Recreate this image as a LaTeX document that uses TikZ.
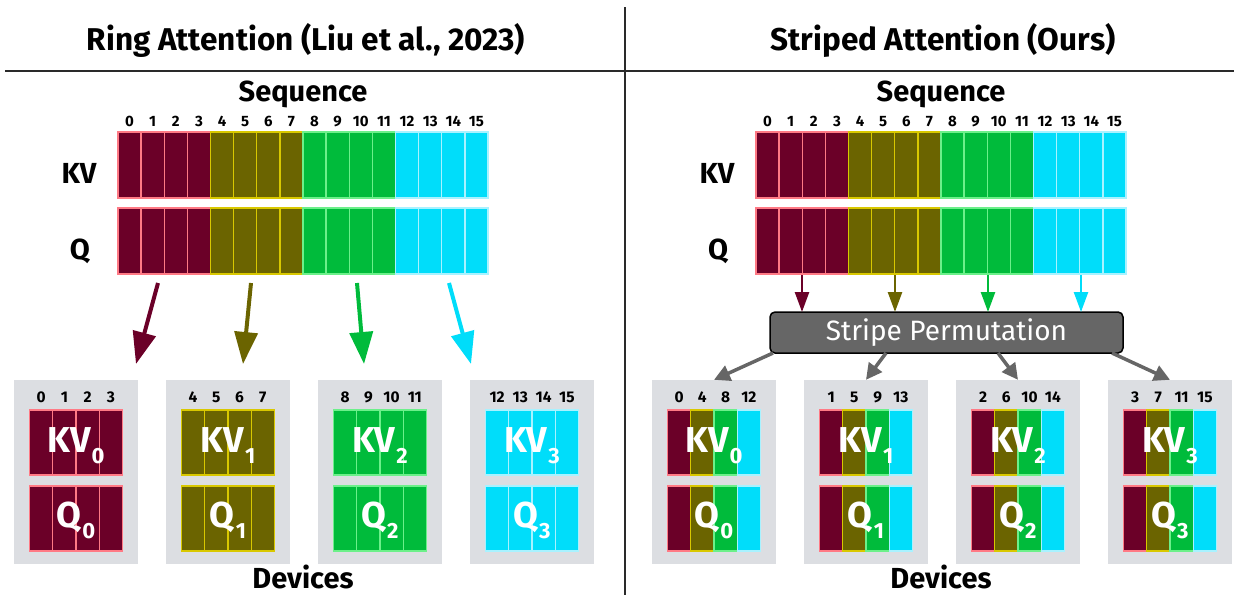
\documentclass[tikz,border=0pt]{standalone}
\usepackage{fontspec}
\setmainfont{Fira Sans}
\usetikzlibrary{arrows.meta}
\definecolor{f0}{HTML}{6B0028}
\definecolor{f1}{HTML}{6B6400}
\definecolor{f2}{HTML}{00BB3B}
\definecolor{f3}{HTML}{00DDFA}
\definecolor{b0}{HTML}{FF7A85}
\definecolor{b1}{HTML}{D9C800}
\definecolor{b2}{HTML}{6CF08A}
\definecolor{b3}{HTML}{A8F2FF}
\definecolor{devgray}{HTML}{DCDEE2}
\definecolor{permgray}{HTML}{666666}
\definecolor{rule}{HTML}{2A2A2A}
\begin{document}
\begin{tikzpicture}[x=1pt,y=-1pt,
  cellline/.style={line width=1.4pt},
  numlbl/.style={anchor=base,inner sep=0,font=\fontsize{15}{15}\selectfont\bfseries},
  devnum/.style={anchor=base,inner sep=0,font=\fontsize{15.5}{16}\selectfont\bfseries},
  title/.style={anchor=base,inner sep=0,font=\fontsize{31.5}{32}\selectfont\bfseries},
  head/.style={anchor=base,inner sep=0,font=\fontsize{29}{30}\selectfont\bfseries},
  rowlbl/.style={anchor=base,inner sep=0,font=\fontsize{29}{30}\selectfont\bfseries},
  devlbl/.style={anchor=base,inner sep=0,text=white,font=\fontsize{36}{36}\selectfont\bfseries},
  barbox/.style={minimum width=370pt,minimum height=66pt,inner sep=0,draw=none},
  devbox/.style={minimum width=124pt,minimum height=184pt,inner sep=0,fill=devgray,draw=none},
  bigarrow/.style={line width=4pt,-{Triangle[length=32pt,width=23pt]}},
  downarrow/.style={line width=2.5pt,-{Triangle[length=20pt,width=14pt]}},
  grayarrow/.style={line width=3.5pt,permgray,-{Triangle[length=16pt,width=16pt]}},
  permbox/.style={minimum width=353pt,minimum height=41pt,inner sep=0,rounded corners=5pt,
    fill=permgray,draw=black,line width=1.5pt,text=white,font=\fontsize{28}{28}\selectfont}
]
\useasboundingbox (0,0) rectangle (1234,595);
% rules
\draw[rule,line width=2pt] (625,7) -- (625,595);
\draw[rule,line width=2pt] (5,70.5) -- (1234,70.5);
% titles
\node[title] (tL) at (306,50) {Ring Attention (Liu et al., 2023)};
\node[title] (tR) at (943,50) {Striped Attention (Ours)};
\node[head] (sL) at (303,101) {Sequence};
\node[head] (sR) at (941,101) {Sequence};
\node[head] (dL) at (303,588) {Devices};
\node[head] (dR) at (941,588) {Devices};
% row labels
\node[rowlbl] (kvlL) at (79,183) {KV};
\node[rowlbl] (qlL) at (80,259) {Q};
\node[rowlbl] (kvlR) at (717,183) {KV};
\node[rowlbl] (qlR) at (718,259) {Q};
% sequence bars
\foreach \bx/\sd in {118/L,756/R} {
  \node[barbox] (kv\sd) at (\bx+185,165) {};
  \node[barbox] (q\sd) at (\bx+185,241) {};
  \foreach \i in {0,...,15} {
    \pgfmathtruncatemacro\g{floor(\i/4)}
    \pgfmathsetmacro\xx{\bx+23.125*\i}
    \filldraw[fill=f\g,draw=b\g,cellline] (\xx,132) rectangle ++(23.125,66);
    \filldraw[fill=f\g,draw=b\g,cellline] (\xx,208) rectangle ++(23.125,66);
    \node[numlbl] (n\sd\i) at (\xx+11.56,126) {\i};
  }
}
% left devices
\foreach \d/\bx in {0/14,1/166,2/318,3/470} {
  \node[devbox] (devL\d) at (\bx+62,472) {};
  \foreach \j in {0,...,3} {
    \pgfmathtruncatemacro\nn{4*\d+\j}
    \pgfmathsetmacro\xx{\bx+15.5+23.25*\j}
    \filldraw[fill=f\d,draw=b\d,cellline] (\xx,410) rectangle ++(23.25,65);
    \filldraw[fill=f\d,draw=b\d,cellline] (\xx,486) rectangle ++(23.25,65);
    \node[devnum] (dnL\d\j) at (\xx+11.6,402) {\nn};
  }
  \node[devlbl] (kvdL\d) at (\bx+62,452) {KV\kern1pt\raisebox{-11pt}{\fontsize{22}{22}\selectfont\d}};
  \node[devlbl] (qdL\d) at (\bx+62,527) {Q\kern1pt\raisebox{-11pt}{\fontsize{22}{22}\selectfont\d}};
}
% right devices
\foreach \d/\bx in {0/652,1/804,2/956,3/1108} {
  \node[devbox] (devR\d) at (\bx+62,472) {};
  \foreach \j in {0,...,3} {
    \pgfmathtruncatemacro\nn{\d+4*\j}
    \pgfmathsetmacro\xx{\bx+15.5+23.25*\j}
    \filldraw[fill=f\j,draw=b\j,cellline] (\xx,410) rectangle ++(23.25,65);
    \filldraw[fill=f\j,draw=b\j,cellline] (\xx,486) rectangle ++(23.25,65);
    \node[devnum] (dnR\d\j) at (\xx+11.6,402) {\nn};
  }
  \node[devlbl] (kvdR\d) at (\bx+62,452) {KV\kern1pt\raisebox{-11pt}{\fontsize{22}{22}\selectfont\d}};
  \node[devlbl] (qdR\d) at (\bx+62,527) {Q\kern1pt\raisebox{-11pt}{\fontsize{22}{22}\selectfont\d}};
}
% left arrows
\coordinate (la0) at (158,283); \coordinate (lt0) at (136,364);
\coordinate (la1) at (251,283); \coordinate (lt1) at (243,364);
\coordinate (la2) at (357,283); \coordinate (lt2) at (364,364);
\coordinate (la3) at (449,283); \coordinate (lt3) at (471,364);
\foreach \k in {0,...,3} { \draw[bigarrow,f\k] (la\k) -- (lt\k); }
% stripe permutation
\node[permbox] (perm) at (946.5,332.5) {Stripe Permutation};
\foreach \k/\xx in {0/802,1/895,2/988,3/1081} {
  \coordinate (ra\k) at (\xx,275);
  \coordinate (rt\k) at (\xx,312);
  \draw[downarrow,f\k] (ra\k) -- (rt\k);
}
\coordinate (ga0) at (773,353);
\coordinate (ga1) at (886,353);
\coordinate (ga2) at (998,353);
\coordinate (ga3) at (1112,353);
\foreach \k in {0,...,3} { \draw[grayarrow] (ga\k) -- (devR\k.north); }
\end{tikzpicture}
\end{document}
